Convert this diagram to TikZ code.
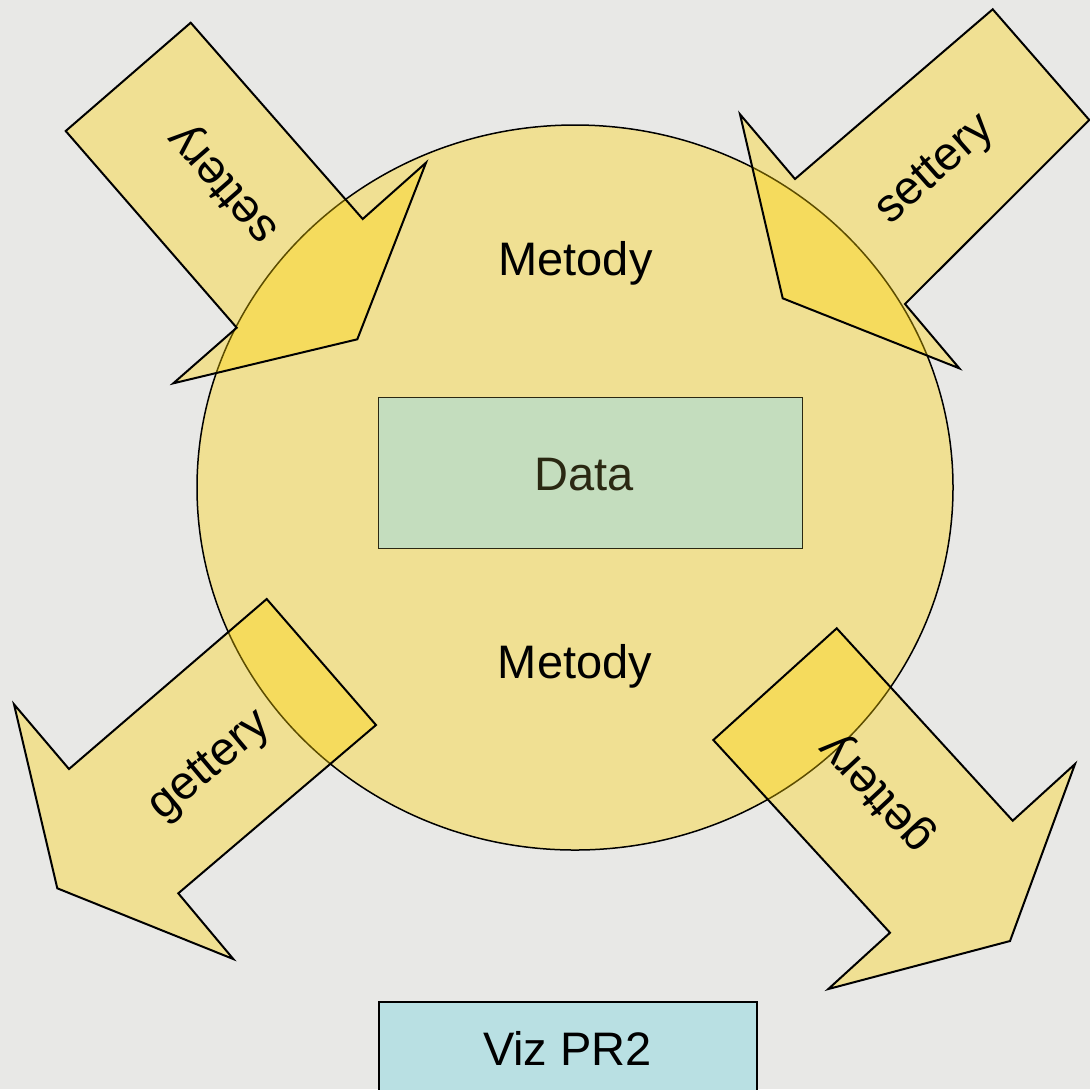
\documentclass[tikz,border=0pt]{standalone}
\usepackage{fontspec}
\setmainfont{Liberation Sans}
\definecolor{bg}{HTML}{E8E8E6}
\definecolor{gold}{HTML}{FFD400}
\definecolor{vizc}{HTML}{B9E0E3}
\definecolor{datac}{HTML}{C4DDBE}
\definecolor{datat}{HTML}{2A2812}
\begin{document}
\begin{tikzpicture}[x=0.5pt,y=-0.5pt,
  arrowshape/.style={draw=black, line width=1pt, fill=gold, fill opacity=0.36, line join=miter},
  lbl/.style={font=\fontsize{23.5}{28}\selectfont, inner sep=0pt, text=black},
]
\useasboundingbox (0,0) rectangle (1090,1089);
\fill[bg] (0,0) rectangle (1090,1089);
\clip (0,0) rectangle (1090,1089);

% object circle
\draw[line width=0.75pt, fill=gold, fill opacity=0.36] (575,487.5) ellipse [x radius=378, y radius=362.5];

% data box
\node[draw=datat, line width=0.75pt, fill=datac, minimum width=212pt, minimum height=75.5pt, inner sep=0pt] (databox) at (590.3,472.8) {};
\node[lbl, text=datat, anchor=base] (data) at (584,490.7) {Data};

% block arrows
\draw[arrowshape] (190.7,22.7) -- (362.7,219) -- (426,162.7) -- (357.3,339.3) -- (173.3,383.3) -- (236.7,327.7) -- (65.7,131) -- cycle;
\draw[arrowshape] (992.7,9.3) -- (1089.3,120) -- (905,304) -- (959.3,368.3) -- (782.7,298.3) -- (740,114.3) -- (795,179) -- cycle;
\draw[arrowshape] (266.7,599) -- (376,725) -- (178.3,893.3) -- (233.3,959) -- (57.3,888.3) -- (14,704.3) -- (69,769) -- cycle;
\draw[arrowshape] (836.7,628.3) -- (1012.7,820.7) -- (1075,764) -- (1010,941) -- (828.3,989) -- (890,932.7) -- (713.3,740) -- cycle;

\node[lbl, rotate=131] (s1) at (225,183) {settery};
\node[lbl, rotate=41.5] (s2) at (936,171) {settery};
\node[lbl, rotate=40] (g1) at (211,767) {gettery};
\node[lbl, rotate=133] (g2) at (878,792) {gettery};

\node[lbl, anchor=base] (m1) at (575.5,275) {Metody};
\node[lbl, anchor=base] (m2) at (575,678.3) {Metody};

% Viz PR2 box
\node[draw=black, line width=1pt, fill=vizc, minimum width=189pt, minimum height=49pt, inner sep=0pt] (vizbox) at (568,1051) {};
\node[lbl, anchor=base] (viz) at (567.5,1065) {Viz PR2};
\end{tikzpicture}
\end{document}
